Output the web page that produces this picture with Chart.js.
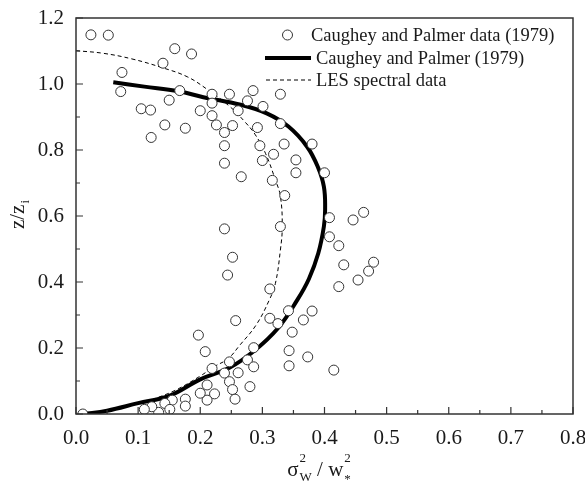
<!DOCTYPE html>
<html>
<head>
<meta charset="utf-8">
<script src="https://cdn.jsdelivr.net/npm/chart.js@4.4.0/dist/chart.umd.min.js"></script>
<style>
  html, body { margin: 0; padding: 0; background: #fff; }
</style>
</head>
<body>
<canvas id="chart" width="585" height="494"></canvas>
<script>
// sigma_w^2 / w*^2 profiles vs z/zi

const SERIF = "'Liberation Serif', 'Times New Roman', serif";
const INK = "#1a1a1a";
const FRAME = "#333";

const X_TICKS = [0, 0.1, 0.2, 0.3, 0.4, 0.5, 0.6, 0.7, 0.8];
const Y_TICKS = [0, 0.2, 0.4, 0.6, 0.8, 1.0, 1.2];

const LEGEND_LABELS = [
  "Caughey and Palmer data (1979)",
  "Caughey and Palmer (1979)",
  "LES spectral data",
];

// measured points (x = sigma_w^2/w*^2, y = z/zi)
const obsX = [
  0.024, 0.052, 0.159, 0.186, 0.140, 0.074, 0.072, 0.167, 0.150, 0.105,
  0.120, 0.200, 0.143, 0.176, 0.121, 0.219, 0.219, 0.247, 0.285, 0.276,
  0.261, 0.219, 0.226, 0.252, 0.239, 0.239, 0.239, 0.329, 0.301, 0.292,
  0.329, 0.296, 0.335, 0.380, 0.318, 0.300, 0.354, 0.354, 0.266, 0.316,
  0.400, 0.336, 0.408, 0.446, 0.463, 0.239, 0.329, 0.408, 0.423, 0.252,
  0.431, 0.479, 0.471, 0.454, 0.244, 0.423, 0.312, 0.342, 0.380, 0.366,
  0.312, 0.325, 0.257, 0.348, 0.197, 0.343, 0.373, 0.343, 0.415, 0.208,
  0.286, 0.276, 0.247, 0.219, 0.286, 0.239, 0.261, 0.247, 0.211, 0.280,
  0.252, 0.223, 0.256, 0.211, 0.200, 0.176, 0.176, 0.155, 0.143, 0.151,
  0.133, 0.122, 0.110, 0.011,
];
const obsY = [
  1.149, 1.148, 1.107, 1.091, 1.063, 1.035, 0.977, 0.980, 0.951, 0.925,
  0.921, 0.919, 0.876, 0.866, 0.838, 0.969, 0.942, 0.969, 0.980, 0.949,
  0.919, 0.904, 0.876, 0.874, 0.853, 0.813, 0.760, 0.969, 0.932, 0.868,
  0.880, 0.813, 0.818, 0.818, 0.787, 0.768, 0.770, 0.731, 0.719, 0.708,
  0.731, 0.662, 0.595, 0.588, 0.611, 0.561, 0.568, 0.537, 0.510, 0.475,
  0.452, 0.460, 0.433, 0.406, 0.421, 0.386, 0.379, 0.313, 0.312, 0.285,
  0.290, 0.274, 0.283, 0.248, 0.239, 0.192, 0.173, 0.146, 0.133, 0.189,
  0.201, 0.164, 0.158, 0.138, 0.143, 0.124, 0.125, 0.098, 0.088, 0.083,
  0.074, 0.061, 0.045, 0.042, 0.063, 0.045, 0.024, 0.042, 0.032, 0.014,
  0.005, 0.022, 0.014, 0.000,
];

// Caughey and Palmer (1979) fit
const fitX = [
  0.012, 0.050, 0.100, 0.150, 0.200, 0.247, 0.286, 0.325, 0.356, 0.375,
  0.390, 0.399, 0.401, 0.399, 0.389, 0.372, 0.342, 0.307, 0.265, 0.205,
  0.165, 0.110, 0.060,
];
const fitY = [
  0.000, 0.010, 0.033, 0.055, 0.105, 0.140, 0.190, 0.260, 0.345, 0.410,
  0.487, 0.568, 0.620, 0.689, 0.750, 0.810, 0.871, 0.911, 0.937, 0.960,
  0.978, 0.992, 1.005,
];

// LES spectral data
const lesX = [
  0.000, 0.044, 0.090, 0.138, 0.179, 0.211, 0.248, 0.272, 0.288, 0.305,
  0.321, 0.329, 0.332, 0.329, 0.321, 0.311, 0.290, 0.263, 0.245, 0.222,
  0.200, 0.160, 0.125,
];
const lesY = [
  1.101, 1.093, 1.076, 1.050, 1.022, 0.984, 0.931, 0.885, 0.848, 0.790,
  0.709, 0.660, 0.568, 0.497, 0.396, 0.345, 0.270, 0.207, 0.168, 0.143,
  0.115, 0.072, 0.045,
];

function toPoints(xs, ys) {
  return xs.map((x, i) => ({ x, y: ys[i] }));
}

const frameTicks = {
  id: "frameTicks",
  afterDraw(chart) {
    const { ctx, chartArea: a, scales } = chart;
    ctx.save();
    ctx.strokeStyle = FRAME;
    ctx.lineWidth = 1.5;
    ctx.strokeRect(a.left, a.top, a.right - a.left, a.bottom - a.top);

    ctx.lineWidth = 1.2;
    ctx.beginPath();
    for (let i = 0; i < X_TICKS.length; i++) {
      const px = scales.x.getPixelForValue(X_TICKS[i]);
      ctx.moveTo(px, a.bottom);
      ctx.lineTo(px, a.bottom - 7);
      if (i < X_TICKS.length - 1) {
        const mx = scales.x.getPixelForValue((X_TICKS[i] + X_TICKS[i + 1]) / 2);
        ctx.moveTo(mx, a.bottom);
        ctx.lineTo(mx, a.bottom - 4);
      }
    }
    for (let i = 0; i < Y_TICKS.length; i++) {
      const py = scales.y.getPixelForValue(Y_TICKS[i]);
      ctx.moveTo(a.left, py);
      ctx.lineTo(a.left + 7, py);
      if (i < Y_TICKS.length - 1) {
        const my = scales.y.getPixelForValue((Y_TICKS[i] + Y_TICKS[i + 1]) / 2);
        ctx.moveTo(a.left, my);
        ctx.lineTo(a.left + 4, my);
      }
    }
    ctx.stroke();
    ctx.restore();
  },
};

const axisTitles = {
  id: "axisTitles",
  afterDraw(chart) {
    const { ctx } = chart;
    ctx.save();
    ctx.fillStyle = INK;
    ctx.textBaseline = "alphabetic";

    // x title: sigma^2_W / w^2_*
    const big = "21px " + SERIF;
    const small = "13px " + SERIF;
    const base = 476;
    ctx.font = big;
    const wSig = ctx.measureText("\u03c3").width;
    const wSlash = ctx.measureText(" / ").width;
    const wW = ctx.measureText("w").width;
    ctx.font = small;
    const wIdx1 = Math.max(ctx.measureText("2").width, ctx.measureText("W").width);
    const wIdx2 = Math.max(ctx.measureText("2").width, ctx.measureText("*").width);
    const total = wSig + wIdx1 + wSlash + wW + wIdx2;
    let x = 318 - total / 2;
    ctx.textAlign = "left";
    ctx.font = big;
    ctx.fillText("\u03c3", x, base);
    x += wSig + 1;
    ctx.font = small;
    ctx.fillText("2", x, base - 14);
    ctx.fillText("W", x, base + 5);
    x += wIdx1;
    ctx.font = big;
    ctx.fillText(" / ", x, base);
    x += wSlash;
    ctx.fillText("w", x, base);
    x += wW + 1;
    ctx.font = small;
    ctx.fillText("2", x, base - 14);
    ctx.fillText("*", x, base + 7);

    // y title: z/z_i
    ctx.translate(24, 215);
    ctx.rotate(-Math.PI / 2);
    ctx.font = big;
    const wz = ctx.measureText("z/z").width;
    ctx.font = small;
    const wi = ctx.measureText("i").width;
    const start = -(wz + wi) / 2;
    ctx.font = big;
    ctx.fillText("z/z", start, 0);
    ctx.font = small;
    ctx.fillText("i", start + wz + 1, 5);
    ctx.restore();
  },
};

const insetLegend = {
  id: "insetLegend",
  afterDraw(chart) {
    const { ctx } = chart;
    const rows = [35, 58, 80];
    ctx.save();
    ctx.font = "18.5px " + SERIF;
    ctx.fillStyle = INK;
    ctx.textBaseline = "middle";
    ctx.textAlign = "left";

    // circle marker
    ctx.beginPath();
    ctx.arc(287.5, rows[0], 5, 0, Math.PI * 2);
    ctx.fillStyle = "#fff";
    ctx.fill();
    ctx.strokeStyle = FRAME;
    ctx.lineWidth = 1;
    ctx.stroke();

    // thick line
    ctx.beginPath();
    ctx.moveTo(265, rows[1]);
    ctx.lineTo(311, rows[1]);
    ctx.strokeStyle = "#000";
    ctx.lineWidth = 4;
    ctx.stroke();

    // dashed line
    ctx.beginPath();
    ctx.setLineDash([4, 3]);
    ctx.moveTo(266, rows[2]);
    ctx.lineTo(311, rows[2]);
    ctx.lineWidth = 1;
    ctx.stroke();
    ctx.setLineDash([]);

    ctx.fillStyle = INK;
    ctx.fillText(LEGEND_LABELS[0], 311, rows[0] + 1);
    ctx.fillText(LEGEND_LABELS[1], 316, rows[1] + 1);
    ctx.fillText(LEGEND_LABELS[2], 316, rows[2] + 1);
    ctx.restore();
  },
};

new Chart(document.getElementById("chart"), {
  type: "scatter",
  data: {
    datasets: [
      {
        label: LEGEND_LABELS[0],
        data: toPoints(obsX, obsY),
        pointStyle: "circle",
        pointRadius: 5,
        pointBorderWidth: 1,
        pointBorderColor: FRAME,
        pointBackgroundColor: "#fff",
        showLine: false,
      },
      {
        label: LEGEND_LABELS[1],
        data: toPoints(fitX, fitY),
        showLine: true,
        borderColor: "#000",
        borderWidth: 4,
        pointRadius: 0,
        tension: 0.4,
        fill: false,
      },
      {
        label: LEGEND_LABELS[2],
        data: toPoints(lesX, lesY),
        showLine: true,
        borderColor: "#000",
        borderWidth: 1,
        borderDash: [4, 3],
        pointRadius: 0,
        tension: 0.4,
        fill: false,
      },
    ],
  },
  options: {
    responsive: false,
    animation: false,
    events: [],
    layout: { padding: { top: 18, right: 12, left: 0, bottom: 0 } },
    plugins: {
      legend: { display: false },
      tooltip: { enabled: false },
    },
    scales: {
      x: {
        type: "linear",
        min: 0,
        max: 0.8,
        afterBuildTicks: (s) => { s.ticks = X_TICKS.map((v) => ({ value: v })); },
        ticks: {
          callback: (v) => Number(v).toFixed(1),
          font: { family: SERIF, size: 21 },
          color: INK,
          padding: 12,
          maxRotation: 0,
        },
        grid: { display: false, drawTicks: false },
        border: { display: false },
        afterFit: (s) => { s.height = 80; s.paddingLeft = 0; s.paddingRight = 0; },
      },
      y: {
        type: "linear",
        min: 0,
        max: 1.2,
        afterBuildTicks: (s) => { s.ticks = Y_TICKS.map((v) => ({ value: v })); },
        ticks: {
          callback: (v) => Number(v).toFixed(1),
          font: { family: SERIF, size: 21 },
          color: INK,
          padding: 12,
        },
        grid: { display: false, drawTicks: false },
        border: { display: false },
        afterFit: (s) => { s.width = 76; s.paddingTop = 0; s.paddingBottom = 0; },
      },
    },
  },
  plugins: [frameTicks, axisTitles, insetLegend],
});
</script>
</body>
</html>
